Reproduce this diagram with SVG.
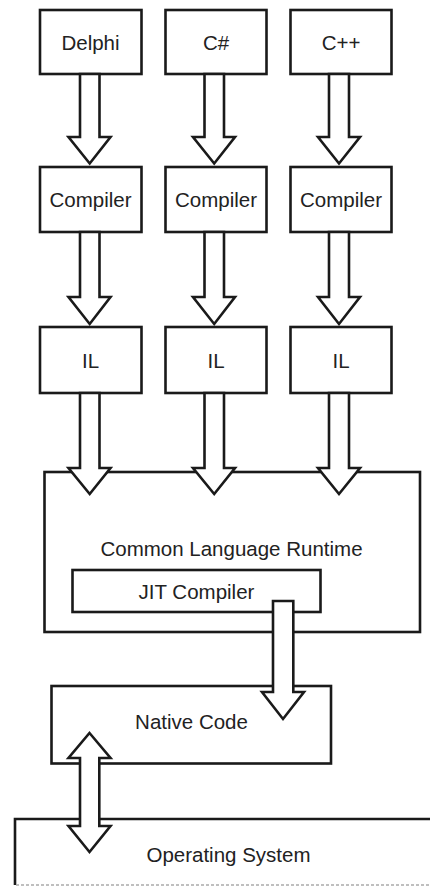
<svg xmlns="http://www.w3.org/2000/svg" width="430" height="887" viewBox="0 0 430 887">
<style>
.box{fill:#fff;stroke:#1a1a1a;stroke-width:2.6}
.arr{fill:#fff;stroke:#1a1a1a;stroke-width:2.6;stroke-linejoin:miter}
.t{font-family:"Liberation Sans",Arial,sans-serif;font-size:20.5px;fill:#222;text-anchor:middle}
</style>
<rect width="430" height="887" fill="#fff"/>
<g id="delphi"><rect class="box" x="40" y="10" width="101.5" height="64"/><text class="t" x="90.5" y="50">Delphi</text></g>
<g id="csharp"><rect class="box" x="165.5" y="10" width="101" height="64"/><text class="t" x="216" y="50">C#</text></g>
<g id="cpp"><rect class="box" x="290.5" y="10" width="101" height="64"/><text class="t" x="341" y="50">C++</text></g>
<g id="compiler1"><rect class="box" x="40" y="167" width="101.5" height="65"/><text class="t" x="90.5" y="207">Compiler</text></g>
<g id="compiler2"><rect class="box" x="165.5" y="167" width="101" height="65"/><text class="t" x="216" y="207">Compiler</text></g>
<g id="compiler3"><rect class="box" x="290.5" y="167" width="101" height="65"/><text class="t" x="341" y="207">Compiler</text></g>
<g id="il1"><rect class="box" x="40" y="327" width="101.5" height="66"/><text class="t" x="90.5" y="368">IL</text></g>
<g id="il2"><rect class="box" x="165.5" y="327" width="101" height="66"/><text class="t" x="216" y="368">IL</text></g>
<g id="il3"><rect class="box" x="290.5" y="327" width="101" height="66"/><text class="t" x="341" y="368">IL</text></g>
<g id="clr"><rect class="box" x="44.5" y="472" width="375.5" height="160"/><text class="t" x="231.5" y="556">Common Language Runtime</text></g>
<g id="jit"><rect class="box" x="72.5" y="570" width="248" height="42"/><text class="t" x="196.5" y="599">JIT Compiler</text></g>
<g id="native"><rect class="box" x="51.5" y="686" width="279.5" height="77.5"/><text class="t" x="191.5" y="729">Native Code</text></g>
<g id="os"><path class="box" d="M440,819 H15 V885" fill="none"/><path d="M16,885 H430" stroke="#aaa" stroke-width="1.5" stroke-dasharray="3 2"/><text class="t" x="228.5" y="862">Operating System</text></g>
<g id="connectors">
<path class="arr" d="M80,74 V137 H68.5 L89.7,163.5 L110.5,137 H99.5 V74 Z"/>
<path class="arr" d="M204.5,74 V137 H193 L214.2,163.5 L235,137 H224 V74 Z"/>
<path class="arr" d="M329,74 V137 H318 L339,163.5 L360,137 H349 V74 Z"/>
<path class="arr" d="M80,232 V297 H68.5 L89.7,324 L110.5,297 H99.5 V232 Z"/>
<path class="arr" d="M204.5,232 V297 H193 L214.2,324 L235,297 H224 V232 Z"/>
<path class="arr" d="M329,232 V297 H318 L339,324 L360,297 H349 V232 Z"/>
<path class="arr" d="M80,393 V468 H68.5 L89.7,494 L110.5,468 H99.5 V393 Z"/>
<path class="arr" d="M204.5,393 V468 H193 L214.2,494 L235,468 H224 V393 Z"/>
<path class="arr" d="M329,393 V468 H318 L339,494 L360,468 H349 V393 Z"/>
<path class="arr" d="M273,601 V692 H262 L283,719 L304,692 H293.3 V601 Z"/>
<path class="arr" d="M89.5,733 L110.5,758 H99.3 V826 H110.5 L89.5,852 L68.5,826 H80 V758 H68.5 Z"/>
</g>
</svg>
